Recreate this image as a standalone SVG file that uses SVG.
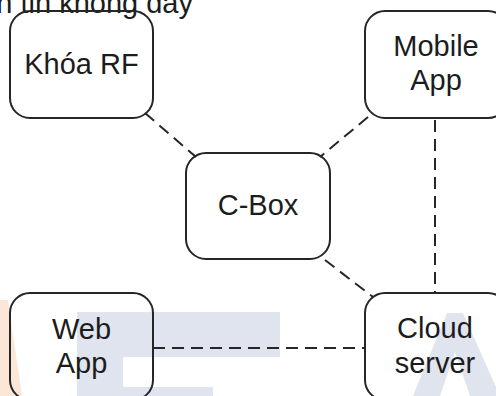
<svg xmlns="http://www.w3.org/2000/svg" width="496" height="396" viewBox="0 0 496 396">
<style>
.box{fill:none;stroke:#262626;stroke-width:2}
.t{font-family:"Liberation Sans",Arial,sans-serif;font-size:29px;fill:#1c1c1c;text-anchor:middle}
.c{stroke:#262626;stroke-width:2;stroke-dasharray:12 7;fill:none}
.wm{fill:#e0e4ef}
</style>
<rect width="496" height="396" fill="#ffffff"/>
<g id="watermark">
<polygon points="0,300 8,300 22,396 0,396" fill="#fce6d8"/>
<path class="wm" d="M77,312 H280 V357 H123 V387 H213 V396 H77 Z"/>
<path class="wm" d="M447,313 H463 L500,396 H470 L455,352 L440,396 H413 Z"/>
</g>
<text class="t" x="193" y="13" style="text-anchor:end">truyền tin không dây</text>
<g id="connectors">
<line class="c" x1="145" y1="113" x2="196" y2="157"/>
<line class="c" x1="368" y1="117" x2="320" y2="157"/>
<line class="c" x1="435" y1="120" x2="435" y2="293"/>
<line class="c" x1="325" y1="260" x2="373" y2="297"/>
<line class="c" x1="153" y1="348" x2="365" y2="348"/>
</g>
<g id="khoa-rf">
<rect class="box" x="10" y="11" width="143" height="107" rx="20"/>
<text class="t" x="81.5" y="74">Khóa RF</text>
</g>
<g id="mobile-app">
<rect class="box" x="365" y="11" width="143" height="107" rx="20"/>
<text class="t" x="436" y="56">Mobile</text>
<text class="t" x="436" y="90">App</text>
</g>
<g id="c-box">
<rect class="box" x="186" y="153" width="144" height="106" rx="20"/>
<text class="t" x="258" y="215">C-Box</text>
</g>
<g id="web-app">
<rect class="box" x="10" y="293" width="143" height="107" rx="20"/>
<text class="t" x="81.5" y="339">Web</text>
<text class="t" x="81.5" y="373">App</text>
</g>
<g id="cloud-server">
<rect class="box" x="365" y="293" width="143" height="107" rx="20"/>
<text class="t" x="435" y="338">Cloud</text>
<text class="t" x="435" y="373">server</text>
</g>
</svg>
